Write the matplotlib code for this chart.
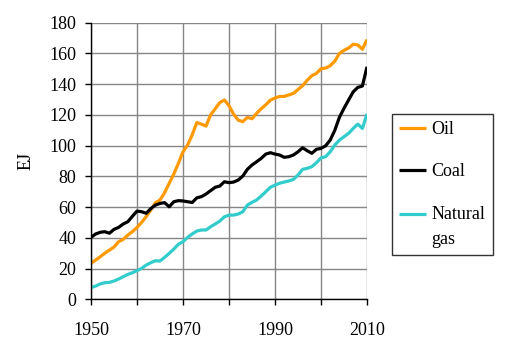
import matplotlib
matplotlib.use("Agg")
import matplotlib.pyplot as plt

years = list(range(1950, 2011))

oil = [23.4, 25.5, 27.7, 30, 32, 34, 37.5, 39, 41.8, 44,
       46.8, 50, 53.8, 58, 62.9, 64.6, 69.4, 75.5, 81.5, 88.5,
       96, 100.4, 107, 115, 114, 112.7, 120, 124, 128, 129.7,
       126, 120.5, 116.6, 115.6, 118.4, 117.5, 121, 124, 126.6, 129.6,
       131, 132, 132, 133, 134, 136.5, 139, 142.5, 145.5, 147,
       150, 150.5, 152, 155, 160, 162, 163.5, 166, 165.5, 162.7,
       169]

coal = [40.3, 42.5, 43.6, 44, 43, 45.5, 46.8, 49, 50.5, 54,
        57.4, 57, 56, 59, 61.3, 62.4, 62.9, 60.2, 63.5, 64.2,
        64, 63.5, 63, 66, 66.8, 68.5, 70.7, 72.9, 73.7, 76.5,
        75.9, 76.3, 77.6, 80.2, 84.6, 87.4, 89.5, 91.7, 94.5, 95.4,
        94.5, 93.9, 92.4, 92.8, 93.9, 96, 98.6, 96.7, 95, 97.6,
        98.2, 99.9, 103.6, 110, 118.4, 124.3, 129.7, 135, 137.9, 138.8,
        151.3]

gas = [7.6, 8.6, 10, 10.8, 11, 11.9, 13.2, 14.7, 16.2, 17.3,
       18.6, 20.1, 22.3, 23.8, 25.1, 24.9, 27.3, 29.9, 32.7, 35.8,
       37.5, 40.3, 42.5, 44.4, 45.1, 45.1, 47.2, 49, 50.9, 53.7,
       54.8, 54.8, 55.5, 57, 61.3, 63.1, 64.6, 67.2, 70, 72.9,
       74.3, 75.5, 76.3, 77, 78, 80.9, 84.6, 85.2, 86.3, 88.9,
       92, 92.8, 96, 100.4, 103.6, 105.8, 108, 111.2, 114, 111.2,
       120.6]

series = ["Oil", "Coal", "Natural\ngas"]
colors = ["#FF9900", "#000000", "#33CCCC"]

plt.rcParams["font.family"] = ["Liberation Serif", "DejaVu Serif"]
fs = 13

fig = plt.figure(figsize=(5.12, 3.54), dpi=100)
ax = fig.add_axes([91 / 512, 1 - 299.3 / 354, 276 / 512, 276.6 / 354])

for name, vals, c in zip(series, [oil, coal, gas], colors):
    ax.plot(years, vals, color=c, lw=2.3, label=name, solid_capstyle="butt")

ax.set_xlim(1950, 2010)
ax.set_ylim(0, 180)
ax.set_xticks(range(1950, 2011, 10))
ax.set_xticklabels(["1950", "", "1970", "", "1990", "", "2010"])
ax.set_yticks(range(0, 181, 20))
ax.grid(True, color="#868686", lw=1)
ax.set_axisbelow(True)
for s in ["top", "right"]:
    ax.spines[s].set_visible(False)
for s in ["left", "bottom"]:
    ax.spines[s].set_color("black")
    ax.spines[s].set_linewidth(1)
ax.tick_params(axis="both", direction="out", length=4.5, width=1, labelsize=fs)
ax.tick_params(axis="x", pad=12)
ax.tick_params(axis="y", pad=6)
ax.set_ylabel("EJ", fontsize=fs, labelpad=11)

leg = fig.legend(loc="upper left", bbox_to_anchor=(392 / 512, 1 - 114 / 354),
                 frameon=True, fancybox=False, fontsize=fs, handlelength=1.5,
                 handletextpad=0.3, labelspacing=1.4, borderpad=0.4,
                 borderaxespad=0)
leg.get_frame().set_edgecolor("black")
leg.get_frame().set_linewidth(1)
for t in leg.get_texts():
    t.set_linespacing(1.65)

# put the gas handle level with the first text line
h = leg.legend_handles[2]
y = h.get_ydata()
h.set_ydata([v + 9.5 for v in y])

fig.savefig("out.png", dpi=100)
